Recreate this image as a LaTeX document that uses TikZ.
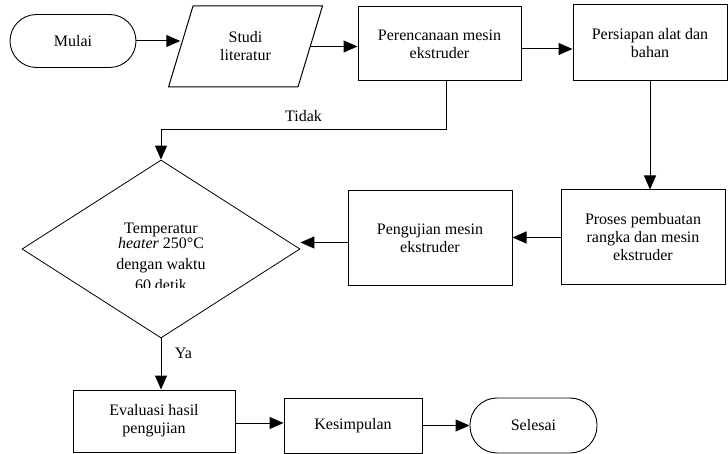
\documentclass[tikz,border=0pt]{standalone}
\usepackage{fontspec}
\setmainfont{Liberation Serif}
\usetikzlibrary{shapes.geometric,arrows.meta}
\tikzset{
  boxnode/.style={draw, line width=1pt, align=center, inner sep=2pt},
  termnode/.style={draw, line width=0.9pt, align=center, inner sep=2pt},
  arr/.style={line width=1pt, -{Triangle[length=14pt,width=12pt]}},
}
\begin{document}
\begin{tikzpicture}[x=1pt, y=-1pt]
            \useasboundingbox (0,0) rectangle (728,454);
            {\fontsize{16}{18}\selectfont

            % Drawing terminal Mulai
            \node [termnode, rounded corners=26.5pt, minimum width=126pt, minimum height=53pt] (mulai) at (73,41) {Mulai};%

            % Drawing input Studi literatur
            \node [boxnode, trapezium, trapezium left angle=69, trapezium right angle=111, trapezium stretches=true, minimum width=155pt, minimum height=81pt] (studi) at (245.5,46.5) {Studi\\literatur};%

            % Drawing process Perencanaan
            \node [boxnode, minimum width=163pt, minimum height=74pt] (peren) at (439.5,44) {Perencanaan mesin\\ekstruder};%

            % Drawing process Persiapan
            \node [boxnode, minimum width=154pt, minimum height=76pt] (siap) at (650,43) {Persiapan alat dan\\bahan};%

            % Drawing process Proses pembuatan
            \node [boxnode, minimum width=164pt, minimum height=95pt] (buat) at (643,237.5) {Proses pembuatan\\rangka dan mesin\\ekstruder};%

            % Drawing process Pengujian
            \node [boxnode, minimum width=164pt, minimum height=95pt] (uji) at (430,238.5) {Pengujian mesin\\ekstruder};%

            % Drawing decision
            \node [draw, diamond, line width=0.8pt, inner sep=0pt, minimum width=278pt, minimum height=178pt] (cek) at (161,249) {};%
            \begin{scope}
              \clip (30,195) rectangle (292,287.5);
              \node [align=center, inner sep=0pt] (cektext) at (161,257) {Temperatur\\[-3pt]\textit{heater} 250°C\\[3pt]dengan waktu\\[3pt]60 detik};%
            \end{scope}

            % Drawing process Evaluasi
            \node [boxnode, minimum width=162pt, minimum height=62pt] (eval) at (154,421) {Evaluasi hasil\\pengujian};%

            % Drawing process Kesimpulan
            \node [boxnode, minimum width=138pt, minimum height=55pt] (simpul) at (353,425.5) {Kesimpulan};%

            % Drawing terminal Selesai
            \node [termnode, rounded corners=27pt, minimum width=127pt, minimum height=55pt] (selesai) at (533.5,425.5) {Selesai};%

            % Drawing arrows top row
            \draw [arr] (mulai.east) -- (mulai.east -| studi.west);%
            \draw [arr] (studi.east) -- (studi.east -| peren.west);%
            \draw [arr] ([yshift=-5pt]peren.east) -- ([yshift=-5pt]peren.east -| siap.west);%

            % Drawing arrow Tidak
            \draw [arr] ([xshift=6.5pt]peren.south) -- ++(0,48) -| (cek.north) node [pos=0.25, above=2pt] {Tidak};%

            % Drawing arrows right side
            \draw [arr] (siap.south) -- (siap.south |- buat.north);%
            \draw [arr] (buat.west) -- (buat.west -| uji.east);%
            \draw [arr] ([yshift=-4pt]uji.west) -- ([yshift=-4pt]uji.west -| cek.east);%

            % Drawing arrow Ya
            \draw [arr] (cek.south) -- (cek.south |- eval.north) node [pos=0.3, right=8pt] {Ya};%

            % Drawing arrows bottom row
            \draw [arr] ([yshift=-2pt]eval.east) -- ([yshift=-2pt]eval.east -| simpul.west);%
            \draw [arr] (simpul.east) -- (simpul.east -| selesai.west);%
            }
\end{tikzpicture}
\end{document}
